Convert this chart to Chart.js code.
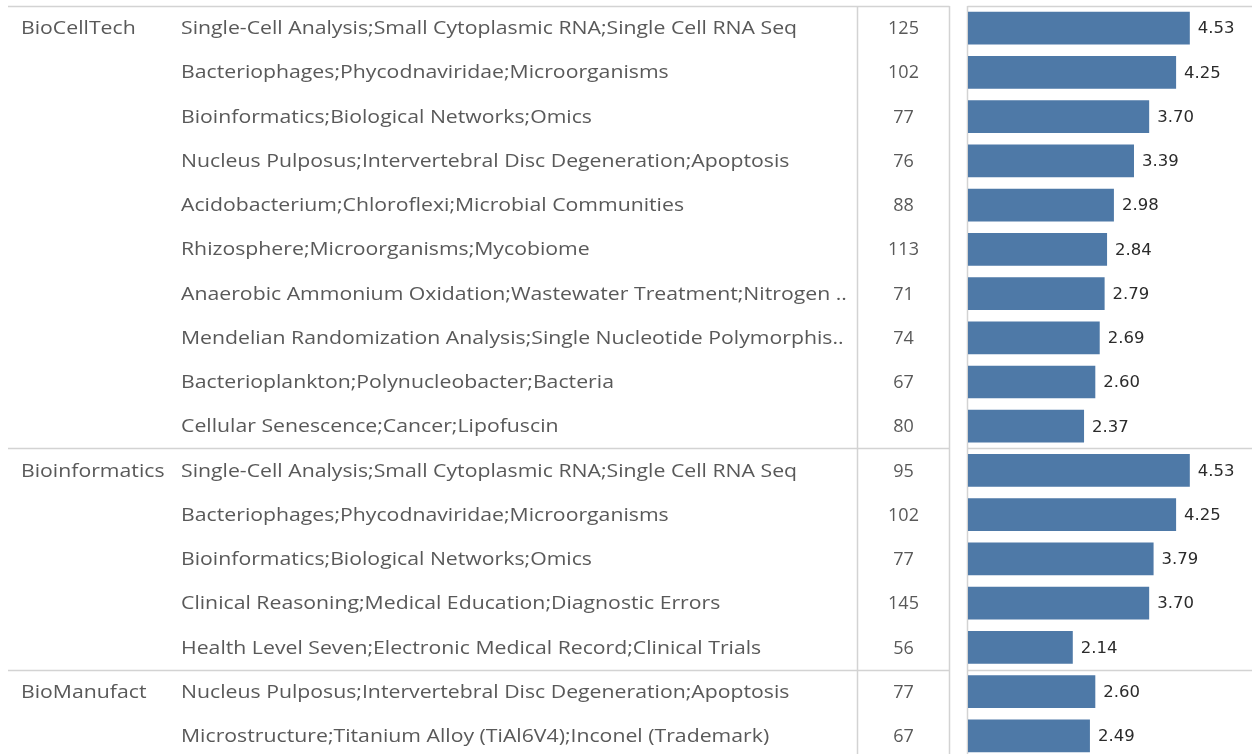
<!DOCTYPE html>
<html>
<head>
<meta charset="utf-8">
<script src="https://cdn.jsdelivr.net/npm/chart.js@4.4.1/dist/chart.umd.min.js"></script>
<style>
    html, body { margin: 0; padding: 0; background: #fff; overflow: hidden; }
    #wrap { position: relative; width: 1252px; height: 758px; }
</style>
</head>
<body>
<div id="wrap"><canvas id="topicChart" width="1252" height="758"></canvas></div>
<script>
// Topic clusters per source, ranked by score within each source
const rowGroups = [
    'BioCellTech', 'BioCellTech', 'BioCellTech', 'BioCellTech', 'BioCellTech',
    'BioCellTech', 'BioCellTech', 'BioCellTech', 'BioCellTech', 'BioCellTech',
    'Bioinformatics', 'Bioinformatics', 'Bioinformatics', 'Bioinformatics', 'Bioinformatics',
    'BioManufact', 'BioManufact'
];

const topics = [
    'Single-Cell Analysis;Small Cytoplasmic RNA;Single Cell RNA Seq',
    'Bacteriophages;Phycodnaviridae;Microorganisms',
    'Bioinformatics;Biological Networks;Omics',
    'Nucleus Pulposus;Intervertebral Disc Degeneration;Apoptosis',
    'Acidobacterium;Chloroflexi;Microbial Communities',
    'Rhizosphere;Microorganisms;Mycobiome',
    'Anaerobic Ammonium Oxidation;Wastewater Treatment;Nitrogen ..',
    'Mendelian Randomization Analysis;Single Nucleotide Polymorphis..',
    'Bacterioplankton;Polynucleobacter;Bacteria',
    'Cellular Senescence;Cancer;Lipofuscin',
    'Single-Cell Analysis;Small Cytoplasmic RNA;Single Cell RNA Seq',
    'Bacteriophages;Phycodnaviridae;Microorganisms',
    'Bioinformatics;Biological Networks;Omics',
    'Clinical Reasoning;Medical Education;Diagnostic Errors',
    'Health Level Seven;Electronic Medical Record;Clinical Trials',
    'Nucleus Pulposus;Intervertebral Disc Degeneration;Apoptosis',
    'Microstructure;Titanium Alloy (TiAl6V4);Inconel (Trademark)'
];

const counts = [125, 102, 77, 76, 88, 113, 71, 74, 67, 80, 95, 102, 77, 145, 56, 77, 67];

const scores = [4.53, 4.25, 3.70, 3.39, 2.98, 2.84, 2.79, 2.69, 2.60, 2.37,
                4.53, 4.25, 3.79, 3.70, 2.14, 2.60, 2.49];

const GRID = '#d3d3d3';
const TEXT = '#595959';
const COL = { group: 21, topic: 181, countLeft: 857.5, countRight: 949.5, axis: 967.5 };

// header text is drawn a bit wider than plain Open Sans
function drawWideText(ctx, text, x, y) {
    ctx.save();
    ctx.translate(x, y);
    ctx.scale(1.18, 1);
    ctx.fillText(text, 0, 0);
    ctx.restore();
}

// ============================================================================
// TABLE PLUGIN - grid lines, row headers, counts and bar value labels
// ============================================================================

const tablePlugin = {
    id: 'tablePlugin',
    beforeDatasetsDraw(chart) {
        const { ctx, chartArea, scales } = chart;
        const yScale = scales.y;
        const pitch = (chartArea.bottom - chartArea.top) / topics.length;
        const top = chartArea.top + 0.5;
        const right = chart.width;

        ctx.save();
        ctx.strokeStyle = GRID;
        ctx.lineWidth = 1.5;

        const hline = (y) => {
            ctx.beginPath();
            ctx.moveTo(8, y); ctx.lineTo(COL.countRight, y);
            ctx.moveTo(COL.axis, y); ctx.lineTo(right, y);
            ctx.stroke();
        };

        hline(top);
        // separators between source groups
        for (let i = 1; i < rowGroups.length; i++) {
            if (rowGroups[i] !== rowGroups[i - 1]) {
                const y = Math.round(yScale.getPixelForValue(i) - pitch / 2) + 0.5;
                hline(y);
            }
        }

        [COL.countLeft, COL.countRight, COL.axis].forEach(x => {
            ctx.beginPath();
            ctx.moveTo(x, chartArea.top);
            ctx.lineTo(x, chart.height);
            ctx.stroke();
        });
        ctx.restore();
    },
    afterDatasetsDraw(chart) {
        const { ctx, scales } = chart;
        const xScale = scales.x;
        const yScale = scales.y;

        ctx.save();
        ctx.textBaseline = 'middle';

        topics.forEach((topic, i) => {
            const y = yScale.getPixelForValue(i) + 1;

            ctx.font = '18px "Open Sans"';
            ctx.fillStyle = TEXT;
            ctx.textAlign = 'left';
            if (i === 0 || rowGroups[i] !== rowGroups[i - 1]) {
                drawWideText(ctx, rowGroups[i], COL.group, y);
            }
            drawWideText(ctx, topic, COL.topic, y);

            ctx.textAlign = 'center';
            ctx.fillText(String(counts[i]), (COL.countLeft + COL.countRight) / 2, y);

            ctx.font = '16.5px "DejaVu Sans"';
            ctx.fillStyle = '#2b2b2b';
            ctx.textAlign = 'left';
            ctx.fillText(scores[i].toFixed(2), xScale.getPixelForValue(scores[i]) + 8, y);
        });
        ctx.restore();
    }
};

const chart = new Chart(document.getElementById('topicChart'), {
    type: 'bar',
    data: {
        labels: topics.map((t, i) => i + ': ' + t),
        datasets: [{
            data: scores,
            backgroundColor: '#4e79a7',
            borderWidth: 0,
            barPercentage: 0.74,
            categoryPercentage: 1.0
        }]
    },
    options: {
        indexAxis: 'y',
        responsive: false,
        animation: false,
        devicePixelRatio: 1,
        layout: { padding: { left: 968, top: 6, right: 0, bottom: 0 } },
        plugins: {
            legend: { display: false },
            tooltip: { enabled: false }
        },
        scales: {
            x: { display: false, min: 0, max: 5.8 },
            y: { display: false }
        }
    },
    plugins: [tablePlugin]
});
</script>
</body>
</html>
